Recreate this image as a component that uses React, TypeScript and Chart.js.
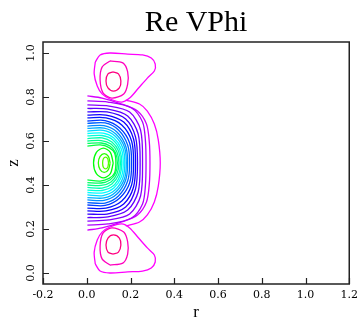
import React, { useEffect, useRef } from "react";
import { Chart, registerables } from "chart.js";

Chart.register(...registerables);

const chartTitle = "Re VPhi";
const xAxisTitle = "r";
const yAxisTitle = "z";
const xTicks = [-0.2, 0.0, 0.2, 0.4, 0.6, 0.8, 1.0, 1.2];
const yTicks = [0.0, 0.2, 0.4, 0.6, 0.8, 1.0];
const xRange = [-0.2, 1.2];
const yRange = [-0.05, 1.05];
// the picture is mirror-symmetric about this z value
const mirrorZ = 0.5;

// closed rings round the central extremum [r, z]
const centerRings = [
  [[0.0995, 0.5], [0.096, 0.519], [0.086, 0.527], [0.076, 0.519], [0.0725, 0.5], [0.076, 0.481], [0.086, 0.473], [0.096, 0.481]],
  [[0.107, 0.5], [0.099, 0.53], [0.08, 0.543], [0.061, 0.53], [0.053, 0.5], [0.061, 0.47], [0.08, 0.457], [0.099, 0.47]],
  [[0.121, 0.5], [0.108, 0.548], [0.076, 0.568], [0.044, 0.548], [0.031, 0.5], [0.044, 0.452], [0.076, 0.432], [0.108, 0.452]],
];

// upper halves of the open contours, from the axis to z = 0.5 (inner to outer)
const openContours = [
  [[0.003, 0.577], [0.061, 0.582], [0.102, 0.57], [0.127, 0.545], [0.133, 0.5]],
  [[0.003, 0.589], [0.066, 0.591], [0.106, 0.577], [0.131, 0.548], [0.14, 0.5]],
  [[0.003, 0.6], [0.066, 0.602], [0.111, 0.586], [0.138, 0.55], [0.147, 0.5]],
  [[0.003, 0.611], [0.07, 0.614], [0.115, 0.595], [0.145, 0.555], [0.154, 0.5]],
  [[0.003, 0.623], [0.07, 0.625], [0.12, 0.605], [0.151, 0.559], [0.16, 0.5]],
  [[0.003, 0.634], [0.075, 0.636], [0.124, 0.614], [0.158, 0.564], [0.167, 0.5]],
  [[0.003, 0.645], [0.075, 0.648], [0.129, 0.623], [0.165, 0.568], [0.174, 0.5]],
  [[0.003, 0.657], [0.079, 0.659], [0.133, 0.632], [0.172, 0.573], [0.181, 0.5]],
  [[0.003, 0.668], [0.079, 0.67], [0.138, 0.641], [0.178, 0.577], [0.187, 0.5]],
  [[0.003, 0.68], [0.084, 0.682], [0.145, 0.65], [0.187, 0.582], [0.196, 0.5]],
  [[0.003, 0.691], [0.084, 0.693], [0.151, 0.659], [0.196, 0.591], [0.205, 0.5]],
  [[0.003, 0.705], [0.088, 0.705], [0.16, 0.673], [0.205, 0.6], [0.214, 0.5]],
  [[0.003, 0.718], [0.088, 0.718], [0.169, 0.686], [0.214, 0.609], [0.223, 0.5]],
  [[0.003, 0.732], [0.093, 0.732], [0.178, 0.7], [0.223, 0.618], [0.232, 0.5]],
  [[0.003, 0.748], [0.097, 0.745], [0.187, 0.714], [0.235, 0.632], [0.244, 0.5]],
  [[0.003, 0.764], [0.102, 0.759], [0.196, 0.732], [0.246, 0.65], [0.255, 0.5]],
  [[0.003, 0.782], [0.097, 0.777], [0.205, 0.75], [0.255, 0.686], [0.268, 0.605], [0.271, 0.5]],
  [[0.003, 0.805], [0.07, 0.795], [0.16, 0.768], [0.232, 0.736], [0.273, 0.677], [0.286, 0.595], [0.289, 0.5]],
];

// closed loops round the upper island (outer, middle, inner)
const islandLoops = [
  [[0.039, 0.959], [0.061, 0.991], [0.106, 1.0], [0.187, 0.995], [0.255, 0.991], [0.295, 0.977], [0.313, 0.95], [0.309, 0.918], [0.277, 0.886], [0.237, 0.841], [0.196, 0.795], [0.16, 0.777], [0.106, 0.791], [0.07, 0.814], [0.048, 0.85], [0.034, 0.905]],
  [[0.106, 0.964], [0.165, 0.955], [0.187, 0.914], [0.187, 0.859], [0.169, 0.814], [0.115, 0.795], [0.075, 0.818], [0.061, 0.877], [0.07, 0.936]],
  [[0.12, 0.914], [0.145, 0.905], [0.156, 0.873], [0.149, 0.841], [0.122, 0.827], [0.097, 0.841], [0.088, 0.873], [0.097, 0.905]],
];

// upper half of the outer arc that leaves the island loop
const outerArc = [[0.178, 0.786], [0.241, 0.768], [0.277, 0.736], [0.309, 0.677], [0.327, 0.605], [0.336, 0.5]];

type P = number[];
const mirrorPoint = ([r, z]: P): P => [r, 2 * mirrorZ - z];
const fullCurve = (half: P[]): P[] => [...half, ...half.slice(0, -1).reverse().map(mirrorPoint)];
const closeLoop = (loop: P[]): P[] => [...loop, loop[0]];
const toXY = (pts: P[]) => pts.map(([r, z]) => ({ x: r, y: z }));

const hsl = (h: number) => `hsl(${h}, 100%, 50%)`;

function buildDatasets() {
  const ds: any[] = [];
  const add = (pts: P[], color: string) =>
    ds.push({
      data: toXY(pts),
      showLine: true,
      borderColor: color,
      backgroundColor: color,
      borderWidth: 1.3,
      pointRadius: 0,
      tension: 0.3,
      fill: false,
    });
  const ringHues = [100, 110, 122];
  centerRings.forEach((loop, i) => add(closeLoop(loop), hsl(ringHues[i])));
  const n = openContours.length;
  openContours.forEach((half, k) => add(fullCurve(half), hsl(134 + (k * (290 - 134)) / (n - 1))));
  const islandHues = [300, 315, 330];
  islandLoops.forEach((loop, i) => {
    add(closeLoop(loop), hsl(islandHues[i]));
    add(closeLoop(loop.map(mirrorPoint)), hsl(islandHues[i]));
  });
  add(fullCurve(outerArc), hsl(300));
  return ds;
}

const framePlugin = {
  id: "frameTicksTitle",
  afterDraw(chart: any) {
    const { ctx, chartArea, scales } = chart;
    const { left, right, top, bottom } = chartArea;
    ctx.save();
    ctx.strokeStyle = "#222";
    ctx.lineWidth = 1.5;
    ctx.strokeRect(left, top, right - left, bottom - top);
    ctx.lineWidth = 1.2;
    ctx.beginPath();
    xTicks.forEach((v) => {
      const px = Math.round(scales.x.getPixelForValue(v)) + 0.5;
      ctx.moveTo(px, bottom);
      ctx.lineTo(px, bottom - 6);
    });
    yTicks.forEach((v) => {
      const py = Math.round(scales.y.getPixelForValue(v)) + 0.5;
      ctx.moveTo(left, py);
      ctx.lineTo(left + 6, py);
    });
    ctx.stroke();
    ctx.fillStyle = "#000";
    ctx.font = '30px "Liberation Serif"';
    ctx.textAlign = "center";
    ctx.textBaseline = "alphabetic";
    ctx.fillText(chartTitle, (left + right) / 2, 31);
    ctx.restore();
  },
};

export default function App() {
  const ref = useRef<HTMLCanvasElement | null>(null);
  useEffect(() => {
    document.body.style.margin = "0";
    if (!ref.current) return;
    const chart = new Chart(ref.current, {
      type: "scatter",
      data: { datasets: buildDatasets() },
      options: {
        animation: false,
        responsive: false,
        devicePixelRatio: 1,
        layout: { padding: { top: 42, right: 8, left: 0, bottom: 0 } },
        plugins: { legend: { display: false }, tooltip: { enabled: false }, title: { display: false } },
        scales: {
          x: {
            type: "linear",
            min: xRange[0],
            max: xRange[1],
            afterBuildTicks: (s: any) => {
              s.ticks = xTicks.map((v) => ({ value: v }));
            },
            afterFit: (s: any) => {
              s.height = 42;
            },
            grid: { display: false, drawTicks: false },
            border: { display: false },
            ticks: {
              autoSkip: false,
              maxRotation: 0,
              minRotation: 0,
              padding: 5,
              color: "#000",
              font: { family: "DejaVu Serif", size: 11 },
              callback: (v: any) => Number(v).toFixed(1),
            },
            title: {
              display: true,
              text: xAxisTitle,
              color: "#000",
              font: { family: "Liberation Serif", size: 17 },
              padding: { top: 0, bottom: 3 },
            },
          },
          y: {
            type: "linear",
            min: yRange[0],
            max: yRange[1],
            afterBuildTicks: (s: any) => {
              s.ticks = yTicks.map((v) => ({ value: v }));
            },
            afterFit: (s: any) => {
              s.width = 43;
            },
            grid: { display: false, drawTicks: false },
            border: { display: false },
            ticks: {
              autoSkip: false,
              minRotation: 90,
              maxRotation: 90,
              crossAlign: "center",
              padding: 3,
              color: "#000",
              font: { family: "DejaVu Serif", size: 11 },
              callback: (v: any) => Number(v).toFixed(1),
            },
            title: {
              display: true,
              text: yAxisTitle,
              color: "#000",
              font: { family: "Liberation Serif", size: 17 },
              padding: { top: 3, bottom: 0 },
            },
          },
        },
      },
      plugins: [framePlugin],
    });
    return () => chart.destroy();
  }, []);
  return (
    <div style={{ position: "absolute", left: 0, top: 0, width: 363, height: 326 }}>
      <canvas ref={ref} width={363} height={326} style={{ width: 363, height: 326, display: "block" }} />
    </div>
  );
}
